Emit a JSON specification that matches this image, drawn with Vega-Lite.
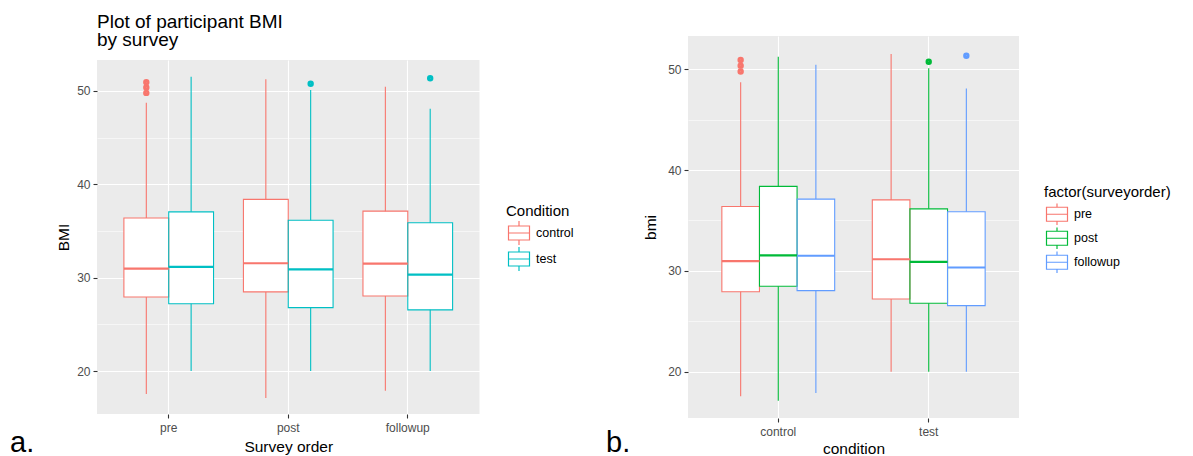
{
  "$schema": "https://vega.github.io/schema/vega-lite/v6.json",
  "background": "white",
  "padding": {"left": 10, "top": 12, "right": 0, "bottom": 0},
  "datasets": {
    "boxes": [
      {"survey": "pre", "condition": "control", "lo": 17.55, "q1": 27.92, "median": 30.97, "q3": 36.38, "hi": 48.72},
      {"survey": "pre", "condition": "test", "lo": 20.0, "q1": 27.21, "median": 31.15, "q3": 37.04, "hi": 51.51},
      {"survey": "post", "condition": "control", "lo": 17.1, "q1": 28.47, "median": 31.54, "q3": 38.38, "hi": 51.25},
      {"survey": "post", "condition": "test", "lo": 20.0, "q1": 26.79, "median": 30.88, "q3": 36.15, "hi": 50.1},
      {"survey": "followup", "condition": "control", "lo": 17.88, "q1": 28.04, "median": 31.5, "q3": 37.12, "hi": 50.44},
      {"survey": "followup", "condition": "test", "lo": 20.0, "q1": 26.55, "median": 30.33, "q3": 35.87, "hi": 48.09}
    ],
    "outliers": [
      {"survey": "pre", "condition": "control", "bmi": 49.78},
      {"survey": "pre", "condition": "control", "bmi": 50.36},
      {"survey": "pre", "condition": "control", "bmi": 50.93},
      {"survey": "post", "condition": "test", "bmi": 50.75},
      {"survey": "followup", "condition": "test", "bmi": 51.34}
    ]
  },
  "spacing": 32,
  "resolve": {
    "scale": {"x": "independent", "y": "independent", "xOffset": "independent", "color": "independent"},
    "legend": {"color": "independent"}
  },
  "hconcat": [
    {
      "title": {"text": "a.", "orient": "bottom", "anchor": "start", "frame": "group", "fontSize": 29, "dx": -87, "dy": -26, "offset": 0},
      "spacing": 0,
      "vconcat": [
        {
          "title": {"text": ["Plot of participant BMI", "\u00a0by survey"], "anchor": "start", "frame": "group", "fontSize": 19, "lineHeight": 17.5, "offset": 0, "dy": 13.5},
          "width": 382.5,
          "height": 23,
          "view": {"fill": "transparent", "stroke": "transparent"},
          "data": {"values": []},
          "mark": "text",
          "encoding": {}
        },
        {
          "width": 382.5,
          "height": 354,
          "data": {"name": "boxes"},
          "encoding": {
            "x": {"field": "survey", "type": "nominal", "sort": ["pre", "post", "followup"], "title": "Survey order",
                  "scale": {"paddingInner": 0.25, "paddingOuter": 0.225}},
            "xOffset": {"field": "condition", "type": "nominal", "sort": ["control", "test"]}
          },
          "layer": [
            {
              "mark": {"type": "bar", "color": "white"},
              "encoding": {
                "y": {"field": "q1", "type": "quantitative", "title": "BMI",
                      "scale": {"domain": [15.4, 53.3], "nice": false, "zero": false},
                      "axis": {"values": [20, 25, 30, 35, 40, 45, 50],
                               "labelExpr": "datum.value % 10 === 0 ? datum.label : ''",
                               "gridWidth": {"condition": {"test": "datum.value % 10 !== 0", "value": 0.55}, "value": 1.1},
                               "tickOpacity": {"condition": {"test": "datum.value % 10 !== 0", "value": 0}, "value": 1}}},
                "y2": {"field": "q3"}
              }
            },
            {
              "mark": {"type": "bar", "filled": false, "strokeWidth": 1.1},
              "encoding": {
                "y": {"field": "q1", "type": "quantitative", "title": "BMI"},
                "y2": {"field": "q3"},
                "color": {"field": "condition", "type": "nominal", "sort": ["control", "test"],
                          "scale": {"domain": ["control", "test"], "range": ["#F8766D", "#00BFC4"]},
                          "legend": {"title": "Condition", "orient": "none", "legendX": 409, "legendY": 168,
                                     "clipHeight": 24, "rowPadding": 2, "titlePadding": 2}}
              }
            },
            {
              "mark": {"type": "rule", "strokeWidth": 1.1},
              "encoding": {
                "y": {"field": "lo", "type": "quantitative", "title": "BMI"},
                "y2": {"field": "q1"},
                "color": {"field": "condition", "type": "nominal"}
              }
            },
            {
              "mark": {"type": "rule", "strokeWidth": 1.1},
              "encoding": {
                "y": {"field": "q3", "type": "quantitative", "title": "BMI"},
                "y2": {"field": "hi"},
                "color": {"field": "condition", "type": "nominal"}
              }
            },
            {
              "mark": {"type": "bar", "filled": false, "strokeWidth": 2.2},
              "encoding": {
                "y": {"field": "median", "type": "quantitative", "title": "BMI"},
                "y2": {"field": "median"},
                "color": {"field": "condition", "type": "nominal"}
              }
            },
            {
              "data": {"name": "outliers"},
              "mark": {"type": "point", "shape": "circle", "filled": false, "size": 9, "strokeWidth": 3.4, "opacity": 1},
              "encoding": {
                "y": {"field": "bmi", "type": "quantitative", "title": "BMI"},
                "color": {"field": "condition", "type": "nominal"}
              }
            }
          ]
        }
      ]
    },
    {
      "title": {"text": "b.", "orient": "bottom", "anchor": "start", "frame": "group", "fontSize": 29, "dx": -82, "dy": -28, "offset": 0},
      "vconcat": [
        {
          "width": 331,
          "height": 382,
          "data": {"name": "boxes"},
          "encoding": {
            "x": {"field": "condition", "type": "nominal", "sort": ["control", "test"], "title": "condition",
                  "scale": {"paddingInner": 0.25, "paddingOuter": 0.225},
                  "axis": {"titlePadding": 4}},
            "xOffset": {"field": "survey", "type": "nominal", "sort": ["pre", "post", "followup"]}
          },
          "layer": [
            {
              "mark": {"type": "bar", "color": "white"},
              "encoding": {
                "y": {"field": "q1", "type": "quantitative", "title": "bmi",
                      "scale": {"domain": [15.4, 53.3], "nice": false, "zero": false},
                      "axis": {"values": [20, 25, 30, 35, 40, 45, 50], "titlePadding": 9,
                               "labelExpr": "datum.value % 10 === 0 ? datum.label : ''",
                               "gridWidth": {"condition": {"test": "datum.value % 10 !== 0", "value": 0.55}, "value": 1.1},
                               "tickOpacity": {"condition": {"test": "datum.value % 10 !== 0", "value": 0}, "value": 1}}},
                "y2": {"field": "q3"}
              }
            },
            {
              "mark": {"type": "bar", "filled": false, "strokeWidth": 1.1},
              "encoding": {
                "y": {"field": "q1", "type": "quantitative", "title": "bmi"},
                "y2": {"field": "q3"},
                "color": {"field": "survey", "type": "nominal", "sort": ["pre", "post", "followup"],
                          "scale": {"domain": ["pre", "post", "followup"], "range": ["#F8766D", "#00BA38", "#619CFF"]},
                          "legend": {"title": "factor(surveyorder)", "orient": "none", "legendX": 356, "legendY": 148.5,
                                     "clipHeight": 21.5, "rowPadding": 2, "titlePadding": 4}}
              }
            },
            {
              "mark": {"type": "rule", "strokeWidth": 1.1},
              "encoding": {
                "y": {"field": "lo", "type": "quantitative", "title": "bmi"},
                "y2": {"field": "q1"},
                "color": {"field": "survey", "type": "nominal"}
              }
            },
            {
              "mark": {"type": "rule", "strokeWidth": 1.1},
              "encoding": {
                "y": {"field": "q3", "type": "quantitative", "title": "bmi"},
                "y2": {"field": "hi"},
                "color": {"field": "survey", "type": "nominal"}
              }
            },
            {
              "mark": {"type": "bar", "filled": false, "strokeWidth": 2.2},
              "encoding": {
                "y": {"field": "median", "type": "quantitative", "title": "bmi"},
                "y2": {"field": "median"},
                "color": {"field": "survey", "type": "nominal"}
              }
            },
            {
              "data": {"name": "outliers"},
              "mark": {"type": "point", "shape": "circle", "filled": false, "size": 9, "strokeWidth": 3.4, "opacity": 1},
              "encoding": {
                "y": {"field": "bmi", "type": "quantitative", "title": "bmi"},
                "color": {"field": "survey", "type": "nominal"}
              }
            }
          ]
        }
      ]
    }
  ],
  "config": {
    "font": "Liberation Sans",
    "view": {"fill": "#EBEBEB", "stroke": null},
    "title": {"font": "Liberation Sans", "fontWeight": "normal", "color": "black"},
    "axis": {
      "domain": false,
      "tickColor": "#333333",
      "tickSize": 4,
      "tickWidth": 1.1,
      "labelColor": "#4D4D4D",
      "labelFontSize": 12,
      "labelPadding": 3,
      "titleFontSize": 15.5,
      "titleFontWeight": "normal",
      "titleColor": "black",
      "gridColor": "white",
      "gridWidth": 1.1
    },
    "axisX": {"grid": true, "labelAngle": 0, "labelPadding": 4, "titlePadding": 6, "bandPosition": 0.5},
    "axisY": {"titlePadding": 5},
    "legend": {
      "padding": 0,
      "titleFontSize": 15,
      "titleFontWeight": "normal",
      "titleColor": "black",
      "titlePadding": 3,
      "labelFontSize": 12.5,
      "labelColor": "black",
      "labelOffset": 4,
      "rowPadding": 2,
      "symbolType": "M-0.875,-0.583H0.875V0.583H-0.875Z M-0.875,0H0.875 M0,-1V-0.583 M0,0.583V1",
      "symbolSize": 576,
      "symbolStrokeWidth": 1.2,
      "symbolFillColor": "white"
    }
  }
}
